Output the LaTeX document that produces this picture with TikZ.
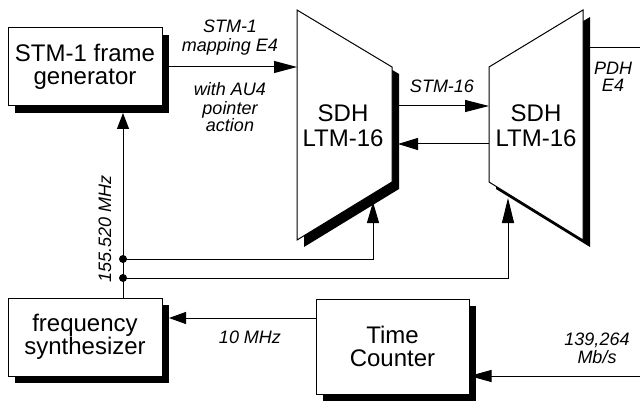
\documentclass[tikz,border=0pt]{standalone}
\usepackage{fontspec}
\setmainfont{Liberation Sans}
\usetikzlibrary{arrows.meta,shadows}
\begin{document}
\begin{tikzpicture}[x=1pt,y=-1pt,line width=1pt,
  box/.style={draw,fill=white,align=center,inner sep=0pt,
    font=\fontsize{24}{23.5}\selectfont,
    drop shadow={shadow xshift=7pt,shadow yshift=-7pt,opacity=1,fill=black}},
  ltmtext/.style={align=center,inner sep=0pt,font=\fontsize{24}{25}\selectfont},
  lbl/.style={font=\itshape\fontsize{18}{18}\selectfont,anchor=base,inner sep=0pt},
  arr/.style={-{Triangle[length=#1,width=12pt]}},
  arr/.default=20pt,
  dot/.style={circle,fill=black,inner sep=0pt,minimum size=8pt}]
\useasboundingbox (0,0) rectangle (640,401);

% boxes
\node[box,minimum width=154pt,minimum height=78pt] (gen) at (85,67) {STM-1 frame\\generator};
\node[box,minimum width=154pt,minimum height=78pt] (syn) at (85,337) {frequency\\synthesizer};
\node[box,minimum width=153pt,minimum height=95pt] (tc) at (392.5,346.5) {Time\\Counter};

% left LTM
\coordinate (L1) at (297,10);
\coordinate (L2) at (392,67);
\coordinate (L3) at (392,182);
\coordinate (L4) at (297,240);
\fill[black] ([shift={(7,7)}]L1) -- ([shift={(7,7)}]L2) -- ([shift={(7,7)}]L3) -- ([shift={(7,7)}]L4) -- cycle;
\filldraw[fill=white] (L1) -- (L2) -- (L3) -- (L4) -- cycle;
\node[ltmtext] (ltmL) at (343,126) {SDH\\LTM-16};

% right LTM
\coordinate (R1) at (489,67);
\coordinate (R2) at (583,10);
\coordinate (R3) at (583,240);
\coordinate (R4) at (489,182);
\fill[black] ([shift={(7,7)}]R1) -- ([shift={(7,7)}]R2) -- ([shift={(7,7)}]R3) -- ([shift={(7,7)}]R4) -- cycle;
\filldraw[fill=white] (R1) -- (R2) -- (R3) -- (R4) -- cycle;
\node[ltmtext] (ltmR) at (536,126) {SDH\\LTM-16};

% connection points
\coordinate (LoutA) at (399,106);
\coordinate (RinA) at (489,106);
\coordinate (RoutB) at (489,144);
\coordinate (LinB) at (398,144);
\coordinate (RoutE) at (590,48);
\coordinate (pdhEnd) at (640,48);
\coordinate (genS) at (123,113);
\coordinate (LbotIn) at (373,202);
\coordinate (RbotIn) at (508,198);
\coordinate (synR) at (169,318);
\coordinate (inR) at (640,376);

\node[dot] (d1) at (123,259) {};
\node[dot] (d2) at (123,278) {};

% connectors
\draw[arr=23pt] (gen.east) -- (gen.east -| L1);
\draw[arr=24pt] (LoutA) -- (RinA);
\draw[arr=20pt] (RoutB) -- (LinB);
\draw (RoutE) -- (pdhEnd);
\draw[arr=16pt] (d2 |- syn.north) -- (genS);
\draw[arr=21pt] (d1.center) -| (LbotIn);
\draw[arr=25pt] (d2.center) -| (RbotIn);
\draw[arr=17pt] (tc.west |- synR) -- (synR);
\draw[arr=22pt] (inR) -- (inR -| tc.east);

% labels
\node[lbl] (t1) at (230,33) {STM-1};
\node[lbl] (t2) at (230,52) {mapping E4};
\node[lbl] (t3) at (230,96) {with AU4};
\node[lbl] (t4) at (230,115) {pointer};
\node[lbl] (t5) at (230,132) {action};
\node[lbl] (t6) at (442,93) {STM-16};
\node[lbl] (t7) at (613,75) {PDH};
\node[lbl] (t8) at (613,92) {E4};
\node[lbl] (t9) at (250,343) {10 MHz};
\node[lbl] (t10) at (597,345) {139,264};
\node[lbl] (t11) at (597,363) {Mb/s};
\node[lbl,rotate=90] (t12) at (111,229) {155.520 MHz};
\end{tikzpicture}
\end{document}
